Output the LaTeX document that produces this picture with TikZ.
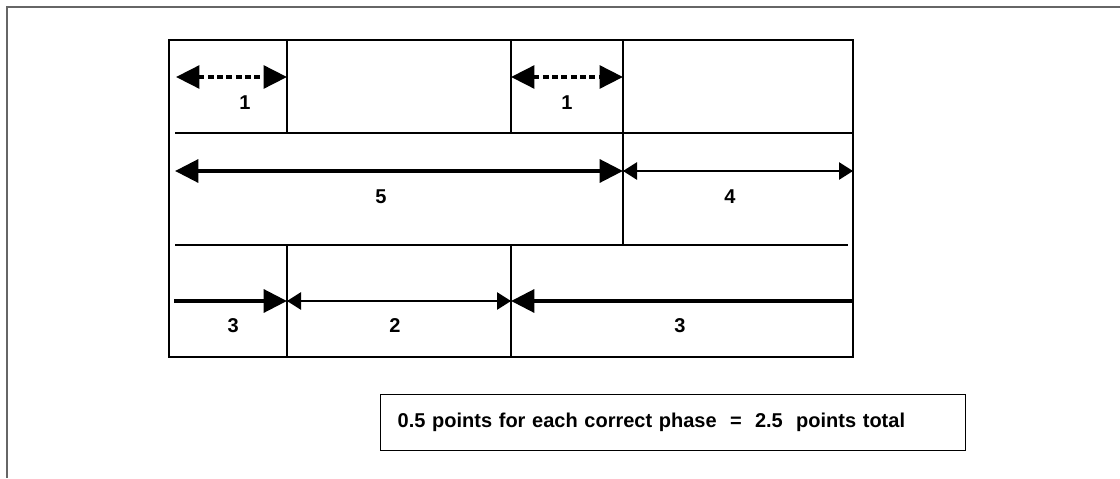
\documentclass[tikz,border=0pt]{standalone}
\usepackage{fontspec}
\setmainfont{Liberation Sans}
\usepackage{xcolor}
\usepackage{tikz}
\usetikzlibrary{arrows.meta}

\tikzset{
   bighead/.tip={Triangle[length=17.5pt,width=17pt]},
   smallhead/.tip={Triangle[length=10.5pt,width=13pt]}
}

\begin{document}
\begin{tikzpicture}[x=0.75pt, y=-0.75pt,
   thickarrow/.style={line width=3.2pt},
   thinarrow/.style={line width=1.2pt},
   dasharrow/.style={line width=2.7pt, dash pattern=on 4.5pt off 2.5pt},
   notebox/.style={draw, line width=1.1pt, anchor=north west, align=left,
                   text width=413pt, inner xsep=12.75pt, minimum height=42pt}]
\useasboundingbox (0,0) rectangle (1120,478);

% page frame
\draw [line width=1.2pt, black!60] (1120,7) -- (7,7) -- (7,478);

% table
\begin{scope}[line width=1.1pt]
   \draw (169,40) rectangle (853,357);
   \draw (175,133) -- (853,133);
   \draw (175,245) -- (848,245);
   \draw (287,40) -- (287,133);
   \draw (511,40) -- (511,133);
   \draw (623,40) -- (623,245);
   \draw (287,245) -- (287,357);
   \draw (511,245) -- (511,357);
\end{scope}

\coordinate (r1a) at (176,77);
\coordinate (r1b) at (287,77);
\coordinate (r1c) at (511,77);
\coordinate (r1d) at (623,77);

\coordinate (r2a) at (175,171);
\coordinate (r2b) at (623,171);
\coordinate (r2c) at (853,171);

\coordinate (r3a) at (174,301);
\coordinate (r3b) at (287,301);
\coordinate (r3c) at (511,301);
\coordinate (r3d) at (853,301);

\begin{scope}[every node/.style={font=\fontsize{15}{18}\selectfont\bfseries}]

   \path (r1a) edge [dasharrow, bighead-bighead] node[yshift=-19pt, xshift=10pt] {1} (r1b);
   \path (r1c) edge [dasharrow, bighead-bighead] node[yshift=-19pt] {1} (r1d);

   \path (r2a) edge [thickarrow, bighead-bighead] node[yshift=-19pt, xshift=-13.5pt] {5} (r2b);
   \path (r2b) edge [thinarrow, smallhead-smallhead] node[yshift=-19pt, xshift=-6pt] {4} (r2c);

   \path (r3a) edge [thickarrow, -bighead] node[yshift=-18.5pt, xshift=2pt] {3} (r3b);
   \path (r3b) edge [thinarrow, smallhead-smallhead] node[yshift=-18.5pt, xshift=-3pt] {2} (r3c);
   \path (r3d) edge [thickarrow, -bighead] node[yshift=-18.5pt, xshift=-1.5pt] {3} (r3c);

   \node [notebox] (note) at (380,394) {0.5 points for each correct phase~ = ~2.5~ points total};
\end{scope}
\end{tikzpicture}
\end{document}
